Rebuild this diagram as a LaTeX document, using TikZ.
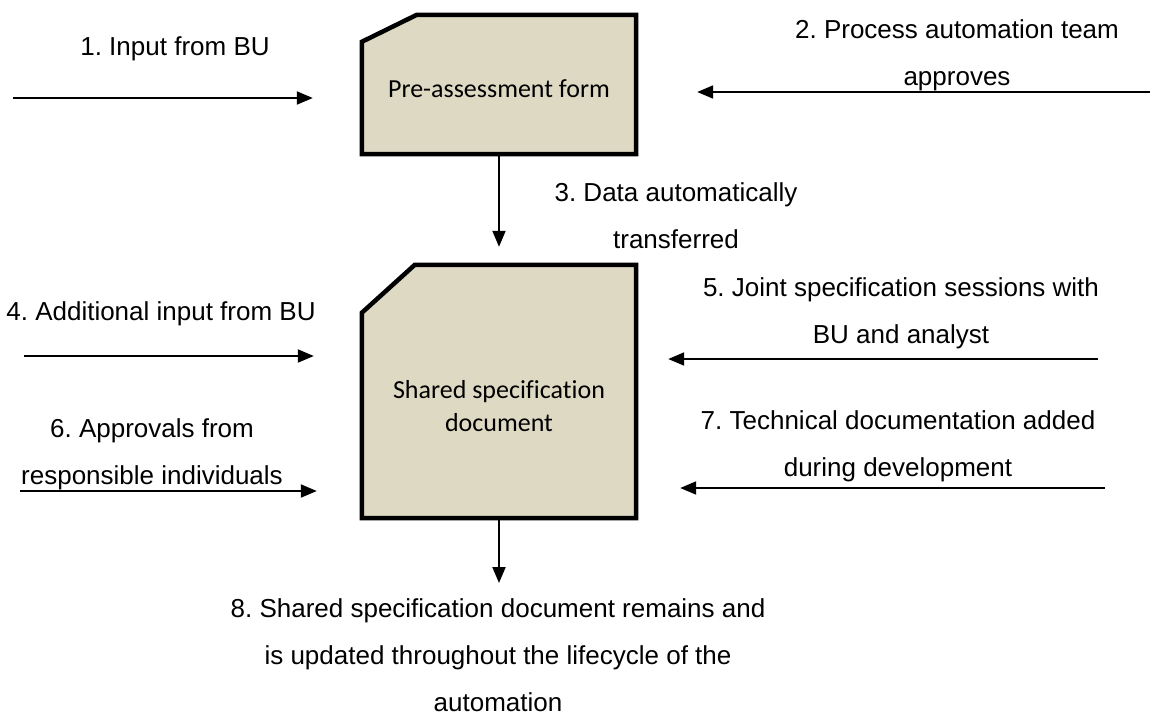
\documentclass[tikz,border=0pt]{standalone}
\usepackage{fontspec}
\setmainfont{Liberation Sans}
\newfontfamily\boxfont[Ligatures=NoCommon]{Carlito}
\usetikzlibrary{arrows.meta}
\definecolor{boxfill}{HTML}{DDD9C3}
\frenchspacing
\tikzset{
  docbox/.style={minimum width=274pt, inner sep=0pt, align=center,
    font=\boxfont\fontsize{26}{33}\selectfont},
  docedge/.style={draw=black, fill=boxfill, line width=4.5pt, line join=miter},
  lbl/.style={align=center, inner sep=0pt, font=\fontsize{26}{47}\selectfont},
  arr/.style={draw=black, line width=2pt, -{Triangle[length=16pt,width=13pt]}}
}
\begin{document}
\begin{tikzpicture}[x=1pt,y=-1pt]
\useasboundingbox (0,0) rectangle (1152,713);

% outlines of the two documents (rectangles with a clipped top-left corner)
\node[docbox, minimum height=139pt] (pre) at (499,84.5) {};
\node[docbox, minimum height=253pt] (shared) at (499,391.5) {};
\path[docedge] ([xshift=55pt]pre.north west) -- (pre.north east) -- (pre.south east)
  -- (pre.south west) -- ([yshift=-27pt]pre.north west) -- cycle;
\path[docedge] ([xshift=53pt]shared.north west) -- (shared.north east) -- (shared.south east)
  -- (shared.south west) -- ([yshift=-48pt]shared.north west) -- cycle;
\node[docbox] (pretext) at (499,89) {Pre-assessment form};
\node[docbox] (sharedtext) at (499,406) {Shared specification\\document};

% free ends of the incoming and outgoing connectors
\coordinate (s1) at (13,98);
\coordinate (s2) at (1150,92);
\coordinate (s4) at (24,356);
\coordinate (s5) at (1098,359);
\coordinate (s6) at (20,491);
\coordinate (s7) at (1105,488);
\coordinate (e8) at (499,583);

\draw[arr, shorten >=49pt] (s1) -- (s1 -| pre.west);
\draw[arr, shorten >=61pt] (s2) -- (s2 -| pre.east);
\draw[arr, shorten >=18pt] (pre.south) -- (shared.north);
\draw[arr, shorten >=48pt] (s4) -- (s4 -| shared.west);
\draw[arr, shorten >=32pt] (s5) -- (s5 -| shared.east);
\draw[arr, shorten >=45pt] (s6) -- (s6 -| shared.west);
\draw[arr, shorten >=44pt] (s7) -- (s7 -| shared.east);
\draw[arr] (shared.south) -- (e8);

% labels
\node[lbl] (l1) at (175,49) {1. Input from BU};
\node[lbl] (l2) at (957,55) {2. Process automation team\\approves};
\node[lbl] (l3) at (676,216) {3. Data automatically\\transferred};
\node[lbl] (l4) at (161,314) {4. Additional input from BU};
\node[lbl] (l5) at (901,313) {5. Joint specification sessions with\\BU and analyst};
\node[lbl] (l6) at (152,454) {6. Approvals from\\responsible individuals};
\node[lbl] (l7) at (898,446) {7. Technical documentation added\\during development};
\node[lbl] (l8) at (498,655) {8. Shared specification document remains and\\is updated throughout the lifecycle of the\\automation};
\end{tikzpicture}
\end{document}
